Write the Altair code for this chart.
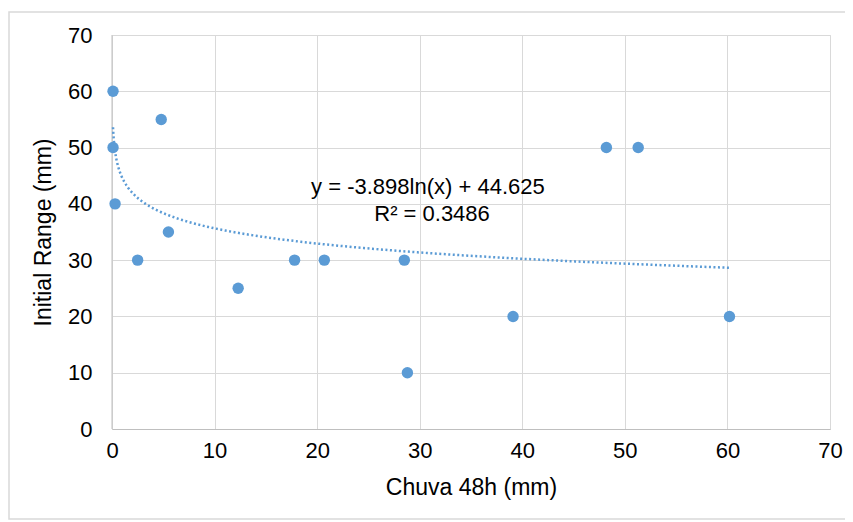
import altair as alt
import pandas as pd

# Data
chuva = [0.1, 0.1, 0.3, 2.5, 4.8, 5.5, 12.3, 17.8, 20.7, 28.5, 28.8, 39.1, 48.2, 51.3, 60.2]
initial_range = [60, 50, 40, 30, 55, 35, 25, 30, 30, 30, 10, 20, 50, 50, 20]

# Logarithmic trendline coefficients (as shown on the chart)
trend_slope = -3.898
trend_intercept = 44.625
eq_lines = ["y = -3.898ln(x) + 44.625", "R² = 0.3486"]
eq_x = [30.8, 31.2]
eq_y = [43.0, 38.2]

COLOR = "#5B9BD5"
FONT = "Liberation Sans"

df = pd.DataFrame({"x": chuva, "y": initial_range})
xmin, xmax = min(chuva), max(chuva)

xscale = alt.Scale(domain=[0, 70], nice=False)
yscale = alt.Scale(domain=[0, 70], nice=False)

xaxis = alt.Axis(values=list(range(0, 71, 10)), title="Chuva 48h (mm)", grid=True,
                 gridColor="#d9d9d9", domainColor="#bfbfbf", ticks=False, labelFlush=False,
                 labelFontSize=22, titleFontSize=23, labelPadding=11, titlePadding=15,
                 labelColor="#000000", titleColor="#000000", labelFont=FONT, titleFont=FONT,
                 titleFontWeight="normal")
yaxis = alt.Axis(values=list(range(0, 71, 10)), title="Initial Range (mm)", grid=True,
                 gridColor="#d9d9d9", domain=False, ticks=False, labelFlush=False,
                 labelFontSize=22, titleFontSize=23, labelPadding=20, titlePadding=12,
                 labelColor="#000000", titleColor="#000000", labelFont=FONT, titleFont=FONT,
                 titleFontWeight="normal")

points = alt.Chart(df).mark_circle(size=130, color=COLOR, opacity=1).encode(
    x=alt.X("x:Q", scale=xscale, axis=xaxis),
    y=alt.Y("y:Q", scale=yscale, axis=yaxis),
)

trend = alt.Chart(alt.sequence(0, 1.0001, 0.005, as_="t")).transform_calculate(
    x=f"exp(log({xmin}) + datum.t * (log({xmax}) - log({xmin})))"
).transform_calculate(
    y=f"{trend_slope} * log(datum.x) + {trend_intercept}"
).mark_line(color=COLOR, strokeWidth=2.5, strokeDash=[2, 2.5]).encode(
    x=alt.X("x:Q", scale=xscale),
    y=alt.Y("y:Q", scale=yscale),
)

# y-axis line at x=0
yline = alt.Chart(pd.DataFrame({"x": [0]})).mark_rule(color="#bfbfbf", strokeWidth=1).encode(
    x=alt.X("x:Q", scale=xscale)
)

eq = alt.Chart(pd.DataFrame({"x": eq_x, "y": eq_y, "t": eq_lines})).mark_text(
    fontSize=22, font=FONT, color="#000000", align="center", baseline="middle"
).encode(
    x=alt.X("x:Q", scale=xscale),
    y=alt.Y("y:Q", scale=yscale),
    text="t:N",
)

border = alt.Chart(pd.DataFrame({"a": [0]})).mark_rect(
    fill=None, stroke="#d9d9d9", strokeWidth=1.5, clip=False
).encode(
    x=alt.value(-103), x2=alt.value(735), y=alt.value(-23), y2=alt.value(484)
)

chart = alt.layer(yline, trend, points, eq, border).properties(
    width=718, height=394,
    autosize=alt.AutoSizeParams(type="none"),
    padding={"left": 104, "top": 27, "right": 15, "bottom": 92},
).configure_view(stroke=None).configure(background="white")

chart.save("out.html", embed_options={"renderer": "svg", "actions": False})
